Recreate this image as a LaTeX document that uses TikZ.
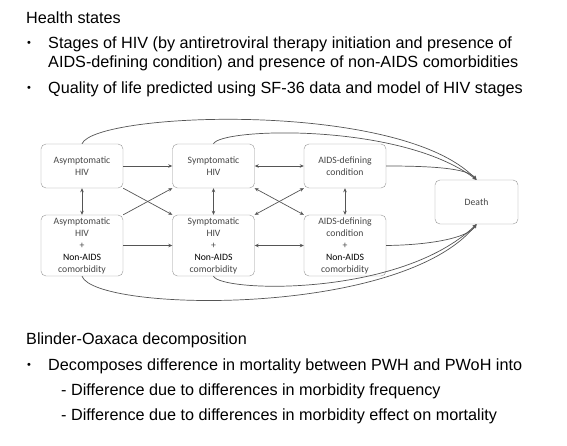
\documentclass[tikz,border=0pt]{standalone}
\usepackage{fontspec}
\setmainfont{Liberation Sans}
\newfontfamily\diafont{Carlito}
\usetikzlibrary{arrows.meta}
\definecolor{boxgray}{RGB}{150,150,150}
\definecolor{linegray}{RGB}{85,85,85}
\definecolor{txtgray}{RGB}{70,70,70}
\tikzset{
  state/.style={draw=boxgray, rounded corners=5pt, minimum width=82pt, inner sep=0pt,
    align=center, text=txtgray, font=\diafont\fontsize{9.7}{12}\selectfont},
  flow/.style={draw=linegray, line width=0.7pt, -{Stealth[length=4pt,width=3.5pt]}},
  twoway/.style={flow, {Stealth[length=4pt,width=3.5pt]}-{Stealth[length=4pt,width=3.5pt]}},
  slide/.style={anchor=base west, inner sep=0pt, font=\fontsize{16.2}{18}\selectfont},
  dot/.style={anchor=base west, inner sep=0pt, font=\fontsize{11}{12}\selectfont},
}
\newcommand{\nonaids}{\textcolor{black}{Non-AIDS}\\comorbidity}
\begin{document}
\begin{tikzpicture}[x=1pt,y=-1pt]
  \useasboundingbox[fill=white] (0,0) rectangle (567,446);
  % slide text
  \node[slide] (health) at (26,24) {Health states};
  \node[dot] (dota) at (27,47) {•};
  \node[slide] (stagesa) at (48,49) {Stages of HIV (by antiretroviral therapy initiation and presence of};
  \node[slide] (stagesb) at (48,68) {AIDS-defining condition) and presence of non-AIDS comorbidities};
  \node[dot] (dotb) at (27,92) {•};
  \node[slide] (quality) at (48,94) {Quality of life predicted using SF-36 data and model of HIV stages};
  \node[slide] (blinder) at (26,344) {Blinder-Oaxaca decomposition};
  \node[dot] (dotc) at (27,368) {•};
  \node[slide] (decomp) at (48,370) {Decomposes difference in mortality between PWH and PWoH into};
  \node[slide] (freq) at (61,395.5) {- Difference due to differences in morbidity frequency};
  \node[slide] (effect) at (61,420) {- Difference due to differences in morbidity effect on mortality};

  % health states
  \node[state, minimum height=44pt] (asym) at (82,166) {Asymptomatic\\HIV};
  \node[state, minimum height=44pt] (sympt) at (213.5,166) {Symptomatic\\HIV};
  \node[state, minimum height=44pt] (aids) at (345,166) {AIDS-defining\\condition};
  \node[state, minimum height=61pt] (asymc) at (82,245.5) {Asymptomatic\\HIV\\+\\\nonaids};
  \node[state, minimum height=61pt] (symptc) at (213.5,245.5) {Symptomatic\\HIV\\+\\\nonaids};
  \node[state, minimum height=61pt] (aidsc) at (345,245.5) {AIDS-defining\\condition\\+\\\nonaids};
  \node[state, minimum height=44pt, minimum width=83pt] (death) at (476.5,202) {Death};

  % transitions
  \draw[flow] (asym) -- (sympt);
  \draw[flow] (asymc) -- (symptc);
  \draw[twoway] (sympt) -- (aids);
  \draw[twoway] (symptc) -- (aidsc);
  \foreach \a/\b in {asym/asymc, sympt/symptc, aids/aidsc}
    \draw[twoway] (\a) -- (\b);
  \draw[flow] (asym.south east) -- (symptc.north west);
  \draw[flow] (asymc.north east) -- (sympt.south west);
  \draw[twoway] (sympt.south east) -- (aidsc.north west);
  \draw[twoway] (symptc.north east) -- (aids.south west);

  % to death
  \draw[flow] (asym.north) .. controls (95,112) and (400,100) .. (death.north);
  \draw[flow] (sympt.north) .. controls (220,128) and (400,122) .. (death.north);
  \draw[flow] (aids.east) .. controls (430,166) and (468,168) .. (death.north);
  \draw[flow] (aidsc.east) .. controls (430,245) and (468,238) .. (death.south);
  \draw[flow] (symptc.south) .. controls (220,292) and (400,298) .. (death.south);
  \draw[flow] (asymc.south) .. controls (95,312) and (400,318) .. (death.south);
\end{tikzpicture}
\end{document}
